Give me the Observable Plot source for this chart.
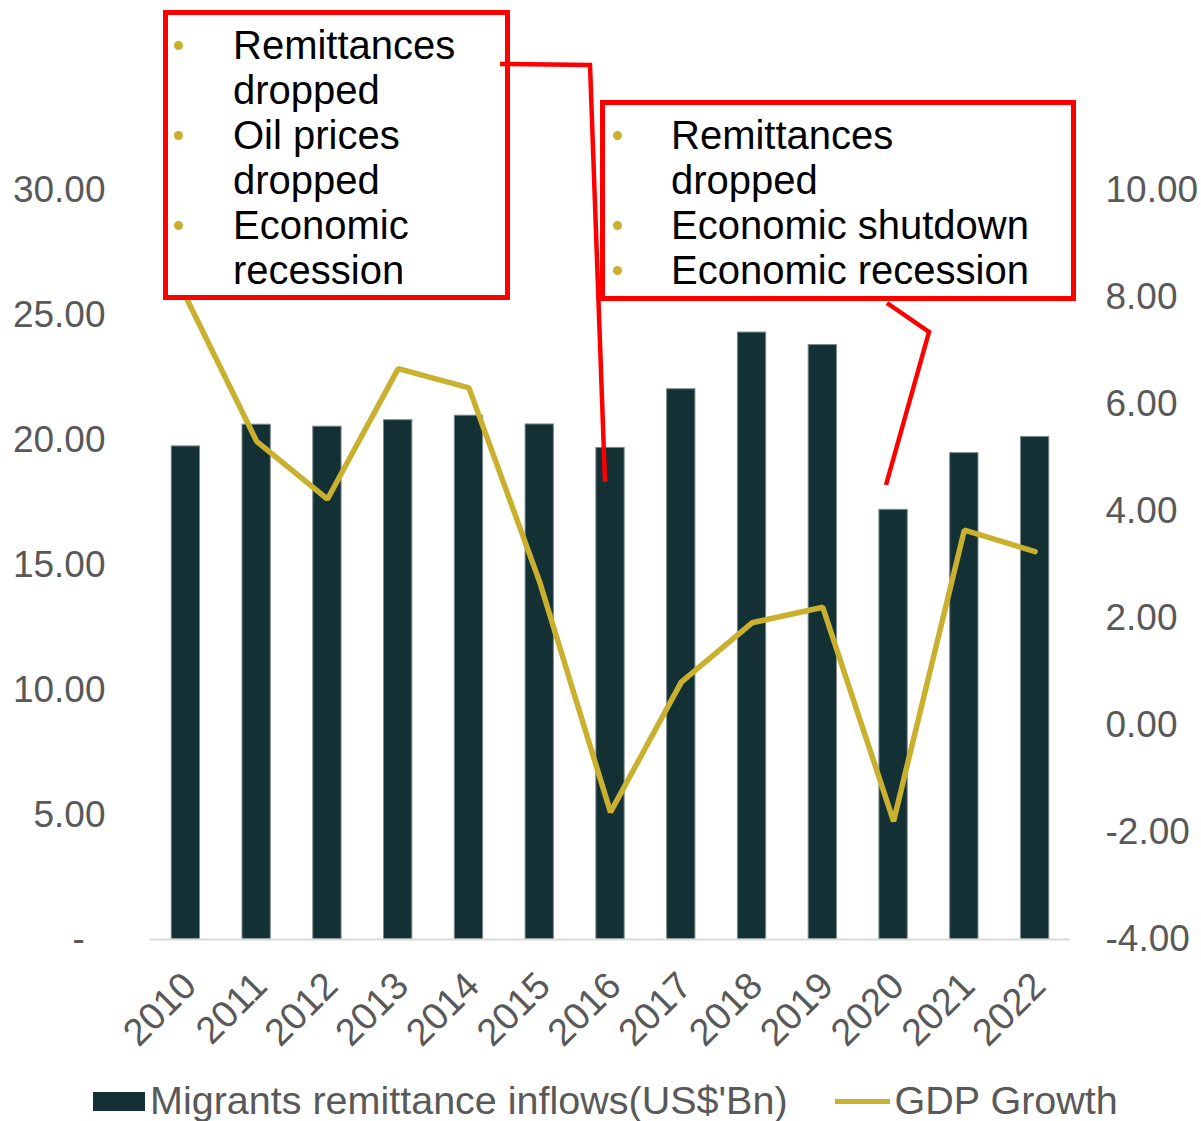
<!DOCTYPE html>
<html><head><meta charset="utf-8">
<script src="https://cdn.jsdelivr.net/npm/d3@7"></script>
<script src="https://cdn.jsdelivr.net/npm/@observablehq/plot@0.6"></script>
<style>
body{margin:0;background:#fff;}
#wrap{position:relative;width:1201px;height:1121px;overflow:hidden;font-family:"Liberation Sans",Arial,sans-serif;}
#wrap svg.plot{display:block;}
.box{position:absolute;box-sizing:border-box;border:5px solid #ff0000;background:#fff;padding-top:8px;color:#000;font-size:40px;}
.box .ln{position:relative;height:45px;line-height:45px;white-space:nowrap;}
.box .dot{position:absolute;width:9px;height:9px;border-radius:50%;background:#c9b02f;top:18px;}
#callouts{position:absolute;left:0;top:0;pointer-events:none;}
#legend{position:absolute;left:0;top:1078px;height:46px;display:flex;align-items:center;padding-left:93px;font-size:39.5px;color:#595959;line-height:1;}
#legend .sw1{width:52px;height:19px;background:#133035;margin-right:5px;}
#legend .sw2{width:55px;height:5px;background:#c9b02f;margin-right:5px;}
</style></head><body><div id="wrap"></div>
<script>
// ---- data ----
const years = ["2010","2011","2012","2013","2014","2015","2016","2017","2018","2019","2020","2021","2022"];
const remittances = [19.75, 20.62, 20.54, 20.80, 20.98, 20.63, 19.69, 22.04, 24.31, 23.81, 17.21, 19.48, 20.13];
const gdpGrowth = [8.01, 5.31, 4.23, 6.67, 6.31, 2.68, -1.62, 0.81, 1.92, 2.21, -1.79, 3.65, 3.25];
const leftTicks = [0, 5, 10, 15, 20, 25, 30];
const rightTicks = [-4, -2, 0, 2, 4, 6, 8, 10];
const leftDomain = [0, 30];
const rightDomain = [-4, 10];
const seriesNames = ["Migrants remittance inflows(US$'Bn)", "GDP Growth"];
const annotation1 = [
  {bullet:true, text:"Remittances"},
  {bullet:false, text:"dropped"},
  {bullet:true, text:"Oil prices"},
  {bullet:false, text:"dropped"},
  {bullet:true, text:"Economic"},
  {bullet:false, text:"recession"}
];
const annotation2 = [
  {bullet:true, text:"Remittances"},
  {bullet:false, text:"dropped"},
  {bullet:true, text:"Economic shutdown"},
  {bullet:true, text:"Economic recession"}
];

// ---- helpers ----
const toLeft = v => (v - rightDomain[0]) / (rightDomain[1] - rightDomain[0]) * (leftDomain[1] - leftDomain[0]) + leftDomain[0];
const rightLabel = new Map(rightTicks.map(t => [toLeft(t), t.toFixed(2)]));
const table = years.map((y, i) => ({year: y, remit: remittances[i], gdp: gdpGrowth[i], gdpL: toLeft(gdpGrowth[i])}));

const barColor = "#133035", lineColor = "#c9b02f", axisText = "#595959";

const chart = Plot.plot({
  width: 1201, height: 1075,
  marginLeft: 150, marginRight: 131, marginTop: 190, marginBottom: 136,
  style: {fontFamily: "'Liberation Sans', Arial, sans-serif", background: "transparent", color: axisText, overflow: "visible"},
  x: {type: "band", domain: years, paddingInner: 0.6, paddingOuter: 0.3, round: false, label: null},
  y: {domain: leftDomain, label: null},
  marks: [
    Plot.barY(table, {x: "year", y: "remit", fill: barColor, stroke: "#7d8b8c", strokeWidth: 1}),
    Plot.ruleY([0], {stroke: "#d9d9d9", strokeWidth: 2}),
    Plot.line(table, {x: "year", y: "gdpL", stroke: lineColor, strokeWidth: 5.5, strokeLinejoin: "miter"}),
    Plot.axisY(leftTicks, {anchor: "left", tickSize: 0, tickPadding: 45, fontSize: 37, fill: axisText, label: null,
      tickFormat: d => d === 0 ? "-\u00a0\u00a0" : d.toFixed(2)}),
    Plot.axisY(rightTicks.map(toLeft), {anchor: "right", tickSize: 0, tickPadding: 35, fontSize: 37, fill: axisText, label: null,
      tickFormat: d => rightLabel.get(d)}),
    Plot.axisX({tickRotate: -45, tickSize: 0, tickPadding: 40, dx: 4, fontSize: 38, fill: axisText, label: null})
  ]
});

const wrap = document.getElementById("wrap");
wrap.appendChild(chart);

// ---- annotation boxes ----
function makeBox(lines, left, top, width, height, textLeft, dotLeft) {
  const b = document.createElement("div");
  b.className = "box";
  Object.assign(b.style, {left: left + "px", top: top + "px", width: width + "px", height: height + "px"});
  for (const l of lines) {
    const ln = document.createElement("div");
    ln.className = "ln";
    ln.style.paddingLeft = textLeft + "px";
    ln.textContent = l.text;
    if (l.bullet) {
      const d = document.createElement("span");
      d.className = "dot";
      d.style.left = dotLeft + "px";
      ln.appendChild(d);
    }
    b.appendChild(ln);
  }
  wrap.appendChild(b);
}
makeBox(annotation1, 163, 10, 347, 290, 65, 6);
makeBox(annotation2, 600, 100, 476, 201, 66, 8);

// ---- callout connectors ----
const ns = "http://www.w3.org/2000/svg";
const co = document.createElementNS(ns, "svg");
co.setAttribute("id", "callouts");
co.setAttribute("width", 1201); co.setAttribute("height", 1121);
const connectors = ["500,64 590,65 605,482", "887,303 929,332 886,485"];
for (const p of connectors) {
  const pl = document.createElementNS(ns, "polyline");
  pl.setAttribute("points", p);
  pl.setAttribute("fill", "none");
  pl.setAttribute("stroke", "#ff0000");
  pl.setAttribute("stroke-width", 4.5);
  co.appendChild(pl);
}
wrap.appendChild(co);

// ---- legend ----
const lg = document.createElement("div");
lg.id = "legend";
lg.innerHTML = `<span class="sw1"></span><span>${seriesNames[0]}</span><span style="width:47px"></span><span class="sw2"></span><span>${seriesNames[1]}</span>`;
wrap.appendChild(lg);
</script></body></html>
